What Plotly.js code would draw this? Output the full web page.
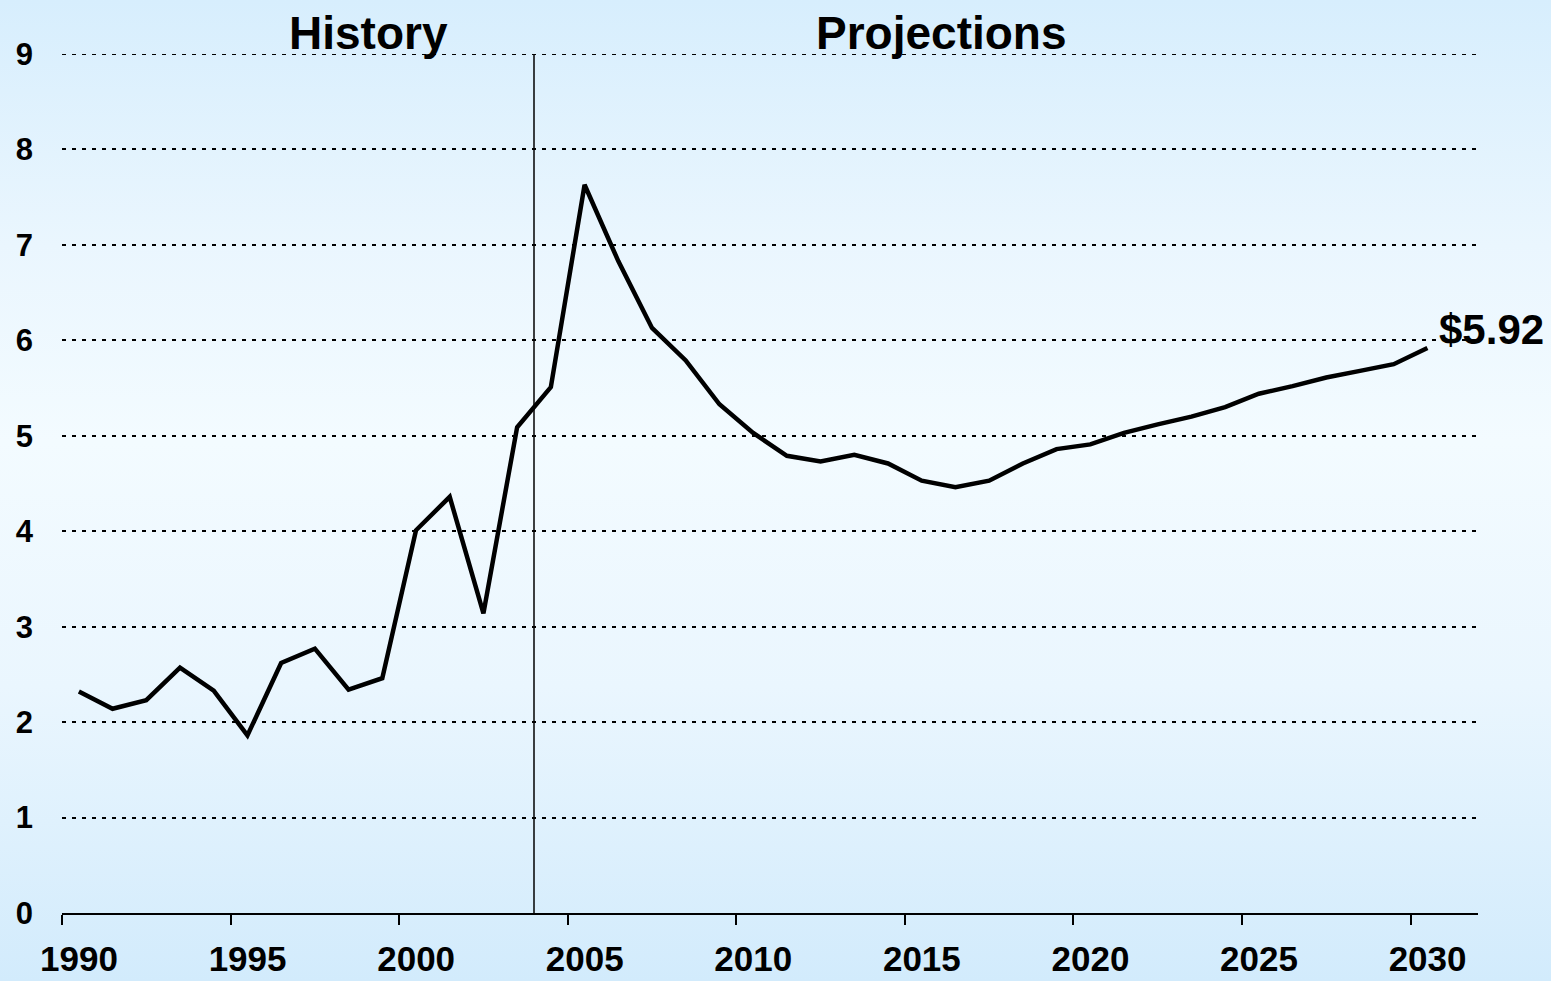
<!DOCTYPE html>
<html>
<head>
<meta charset="utf-8">
<script src="https://cdn.plot.ly/plotly-3.0.1.min.js"></script>
<style>
  html, body { margin: 0; padding: 0; overflow: hidden; }
  body { background: linear-gradient(to bottom, #d7eefd 0%, #eaf6fe 25%, #f3fbff 45%, #eaf6fe 70%, #d2ebfc 100%); }
  #chart { width: 1551px; height: 981px; }
</style>
</head>
<body>
<div id="chart"></div>
<script>
// years and price values
const years = [1990, 1991, 1992, 1993, 1994, 1995, 1996, 1997, 1998, 1999,
  2000, 2001, 2002, 2003, 2004, 2005, 2006, 2007, 2008, 2009,
  2010, 2011, 2012, 2013, 2014, 2015, 2016, 2017, 2018, 2019,
  2020, 2021, 2022, 2023, 2024, 2025, 2026, 2027, 2028, 2029, 2030];
const prices = [2.32, 2.14, 2.23, 2.57, 2.33, 1.86, 2.62, 2.77, 2.34, 2.46,
  4.01, 4.36, 3.14, 5.09, 5.51, 7.63, 6.83, 6.13, 5.79, 5.33,
  5.03, 4.79, 4.73, 4.80, 4.71, 4.53, 4.46, 4.53, 4.71, 4.86,
  4.91, 5.03, 5.12, 5.20, 5.30, 5.44, 5.52, 5.61, 5.68, 5.75, 5.92];
const tickYears = [1990, 1995, 2000, 2005, 2010, 2015, 2020, 2025, 2030];
const yTicks = [0, 1, 2, 3, 4, 5, 6, 7, 8, 9];
const lastLabel = "$5.92";
const splitYear = 2003.5;

const font = "Arial, 'Liberation Sans', sans-serif";
const yMax = yTicks[yTicks.length - 1];

let trace = {
  x: years,
  y: prices,
  mode: 'lines',
  line: {color: 'black', width: 4.5},
  hoverinfo: 'skip'
};

let layout = {
  width: 1551,
  height: 981,
  margin: {l: 62, r: 73, t: 54, b: 68},
  paper_bgcolor: 'rgba(0,0,0,0)',
  plot_bgcolor: 'rgba(0,0,0,0)',
  showlegend: false,
  font: {family: font, color: 'black'},
  xaxis: {
    range: [years[0] - 0.5, years[years.length - 1] + 1.5],
    tickvals: tickYears.map(y => y - 0.5),
    ticktext: tickYears.map(String),
    ticklabelshift: 17,
    ticklabelstandoff: 4,
    ticks: 'outside',
    ticklen: 10,
    tickwidth: 2,
    tickcolor: 'black',
    showline: true,
    linecolor: 'black',
    linewidth: 2,
    showgrid: false,
    zeroline: false,
    tickfont: {family: font, size: 35, color: 'black', weight: 'bold'}
  },
  yaxis: {
    range: [0, yMax],
    tickvals: yTicks,
    ticks: '',
    showline: false,
    zeroline: false,
    showgrid: true,
    gridcolor: 'black',
    gridwidth: 2,
    griddash: '4px,6px',
    ticklabelstandoff: 28,
    tickfont: {family: font, size: 31, color: 'black', weight: 'bold'}
  },
  shapes: [
    {
      // top gridline, plotly drops the one on the range edge
      type: 'line', xref: 'paper', yref: 'y',
      x0: 0, x1: 1, y0: yMax, y1: yMax,
      line: {color: 'black', width: 2, dash: '4px,6px'}
    },
    {
      type: 'line', xref: 'x', yref: 'y',
      x0: splitYear, x1: splitYear, y0: 0, y1: yMax,
      line: {color: 'black', width: 1.5}
    }
  ],
  annotations: [
    {
      text: 'History', xref: 'x', yref: 'paper',
      x: 1998.6, y: 1, yanchor: 'bottom', yshift: -7, showarrow: false,
      font: {family: font, size: 46, color: 'black', weight: 'bold'}
    },
    {
      text: 'Projections', xref: 'x', yref: 'paper',
      x: 2015.6, y: 1, yanchor: 'bottom', yshift: -7, showarrow: false,
      font: {family: font, size: 46, color: 'black', weight: 'bold'}
    },
    {
      text: lastLabel, xref: 'x', yref: 'y',
      x: years[years.length - 1], y: prices[prices.length - 1],
      xanchor: 'left', yanchor: 'middle', xshift: 10, yshift: 18, showarrow: false,
      font: {family: font, size: 42, color: 'black', weight: 'bold'}
    }
  ]
};

Plotly.newPlot('chart', [trace], layout, {displayModeBar: false, staticPlot: true});
</script>
</body>
</html>
